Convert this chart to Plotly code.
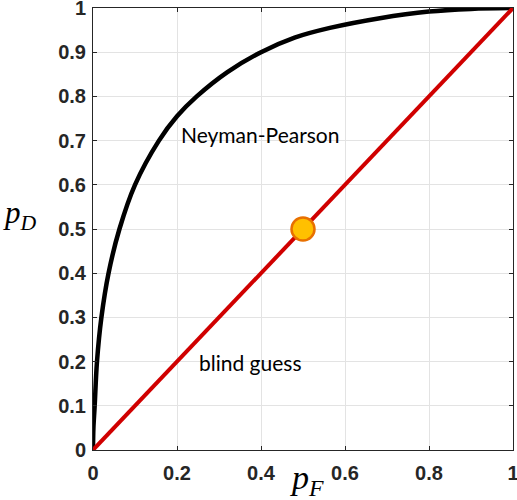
import plotly.graph_objects as go

# Neyman-Pearson ROC curve
p_false = [0.0, 0.001, 0.004, 0.0095, 0.02, 0.037, 0.063, 0.10, 0.157, 0.20,
           0.247, 0.32, 0.40, 0.48, 0.564, 0.683, 0.80, 0.90, 1.0]
p_detect = [0.0, 0.05, 0.10, 0.20, 0.30, 0.40, 0.50, 0.60, 0.70, 0.755,
            0.80, 0.855, 0.90, 0.933, 0.955, 0.977, 0.992, 0.998, 1.0]

# blind guess diagonal
guess_x = [0.0, 1.0]
guess_y = [0.0, 1.0]

# highlighted point
point_x = [0.5]
point_y = [0.5]

x_ticks = [0, 0.2, 0.4, 0.6, 0.8, 1]
x_ticktext = ["0", "0.2", "0.4", "0.6", "0.8", "1"]
y_ticks = [0, 0.1, 0.2, 0.3, 0.4, 0.5, 0.6, 0.7, 0.8, 0.9, 1]
y_ticktext = ["0", "0.1", "0.2", "0.3", "0.4", "0.5", "0.6", "0.7", "0.8", "0.9", "1"]

fig = go.Figure()

fig.add_trace(go.Scatter(
    x=p_false, y=p_detect, mode="lines",
    line=dict(color="black", width=4.5, shape="spline", smoothing=1.0),
    showlegend=False, hoverinfo="skip",
))
fig.add_trace(go.Scatter(
    x=guess_x, y=guess_y, mode="lines",
    line=dict(color="#d00000", width=4),
    showlegend=False, hoverinfo="skip",
))
fig.add_trace(go.Scatter(
    x=point_x, y=point_y, mode="markers",
    marker=dict(size=23, color="#ffc000", line=dict(color="#e87000", width=2.5)),
    showlegend=False, hoverinfo="skip",
))

text_font = dict(family="Lato, sans-serif", size=21, color="black")
fig.add_annotation(x=0.398, y=0.713, text="Neyman-Pearson", showarrow=False, font=text_font)
fig.add_annotation(x=0.374, y=0.197, text="blind guess", showarrow=False, font=text_font)

# axis labels as math-style text (paper coords, outside the plot area)
fig.add_annotation(x=-0.219, y=0.532, xref="paper", yref="paper", xanchor="left",
                   text="<i>p</i><sub><i>D</i></sub>", showarrow=False,
                   font=dict(family="Liberation Serif, serif", size=31, color="black"))
fig.add_annotation(x=0.51, y=-0.12, xref="paper", yref="paper", yanchor="bottom",
                   text="<i>p</i><sub><i>F</i></sub>", showarrow=False,
                   font=dict(family="Liberation Serif, serif", size=34, color="black"))

axis_common = dict(
    range=[0, 1],
    showgrid=True, gridcolor="#e3e3e3", gridwidth=1,
    showline=True, linecolor="#262626", linewidth=1, mirror="allticks",
    ticks="inside", ticklen=4, tickcolor="#262626",
    tickfont=dict(family="Liberation Sans, Arial, sans-serif", size=20, color="#262626"),
    ticklabeloverflow="allow",
    zeroline=False, fixedrange=True,
)

fig.update_xaxes(tickvals=x_ticks, ticktext=["<b>%s</b>" % t for t in x_ticktext],
                 ticklabelstandoff=5, **axis_common)
fig.update_yaxes(tickvals=y_ticks, ticktext=["<b>%s</b>" % t for t in y_ticktext],
                 ticklabelstandoff=2, **axis_common)

fig.update_layout(
    width=517, height=500,
    margin=dict(l=93, r=4, t=8, b=50, autoexpand=False),
    plot_bgcolor="white", paper_bgcolor="white",
)

fig.write_html("out.html", config={"displayModeBar": False},
               post_script="document.body.style.margin='0';")
